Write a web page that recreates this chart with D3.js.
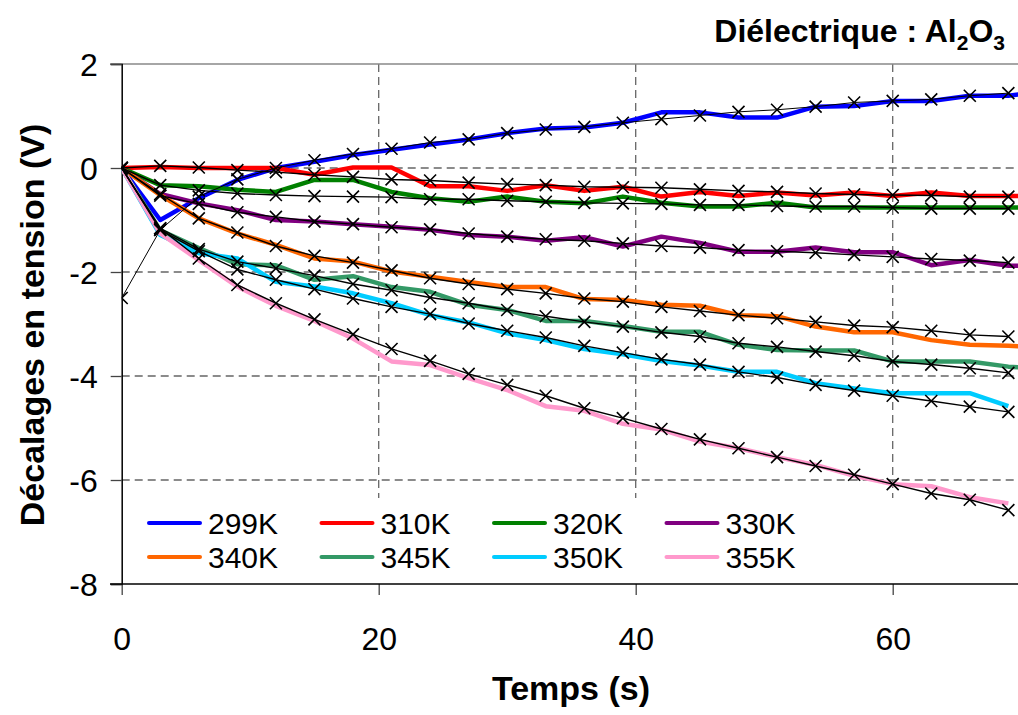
<!DOCTYPE html>
<html><head><meta charset="utf-8">
<script src="https://cdn.jsdelivr.net/npm/d3@7"></script>
<style>
body{margin:0;background:#fff;}
svg{display:block;font-family:"Liberation Sans",Arial,sans-serif;}
</style></head>
<body><svg id="c" width="1018" height="715"></svg>
<script>
// ---- data ----
const times    = [0,3,6,9,12,15,18,21,24,27,30,33,36,39,42,45,48,51,54,57,60,63,66,69,72];
const timesFit = [0,3,6,9,12,15,18,21,24,27,30,33,36,39,42,45,48,51,54,57,60,63,66,69];
const labels = ["299K","310K","320K","330K","340K","345K","350K","355K"];
const colors = ["#0000FF","#FF0000","#008000","#800080","#FF6600","#339966","#00CCFF","#FF99CC"];
const xTicks = [0,20,40,60];
const yTicks = [2,0,-2,-4,-6,-8];

const m299 = [0,-1.0,-0.58,-0.23,0.0,0.12,0.25,0.35,0.45,0.55,0.67,0.76,0.78,0.87,1.07,1.07,0.97,0.97,1.18,1.19,1.29,1.29,1.39,1.39,1.48];
const m310 = [0,0.02,0.0,0.0,0.0,-0.13,0.01,0.01,-0.35,-0.35,-0.44,-0.33,-0.44,-0.36,-0.55,-0.46,-0.54,-0.47,-0.53,-0.47,-0.54,-0.47,-0.54,-0.54,-0.53];
const m320 = [0,-0.33,-0.35,-0.42,-0.46,-0.23,-0.23,-0.46,-0.58,-0.65,-0.55,-0.65,-0.68,-0.55,-0.67,-0.74,-0.74,-0.67,-0.76,-0.76,-0.76,-0.76,-0.76,-0.76,-0.76];
const m330 = [0,-0.5,-0.68,-0.81,-1.0,-1.03,-1.08,-1.13,-1.19,-1.29,-1.32,-1.40,-1.33,-1.51,-1.32,-1.44,-1.61,-1.61,-1.53,-1.62,-1.62,-1.87,-1.77,-1.88,-1.88];
const m340 = [0,-0.52,-0.97,-1.26,-1.48,-1.74,-1.8,-1.99,-2.09,-2.19,-2.29,-2.29,-2.52,-2.54,-2.63,-2.65,-2.83,-2.85,-3.05,-3.16,-3.16,-3.31,-3.40,-3.42,-3.45];
const m345 = [0,-1.2,-1.54,-1.85,-1.87,-2.15,-2.08,-2.29,-2.38,-2.63,-2.73,-2.94,-2.94,-3.04,-3.15,-3.15,-3.40,-3.5,-3.51,-3.51,-3.72,-3.72,-3.72,-3.82,-3.86];
const m350 = [0,-1.29,-1.64,-1.74,-2.19,-2.28,-2.41,-2.6,-2.83,-2.97,-3.18,-3.31,-3.48,-3.58,-3.71,-3.8,-3.92,-3.92,-4.14,-4.24,-4.33,-4.33,-4.33,-4.58];
const m355 = [0,-1.26,-1.77,-2.28,-2.65,-2.94,-3.28,-3.72,-3.79,-4.04,-4.27,-4.58,-4.67,-4.92,-5.03,-5.26,-5.39,-5.56,-5.71,-5.92,-6.08,-6.12,-6.33,-6.45];

const f299 = [-2.5,-1.19,-0.55,-0.22,0.0,0.15,0.27,0.37,0.49,0.55,0.67,0.74,0.79,0.87,0.94,1.01,1.08,1.12,1.18,1.26,1.29,1.32,1.39,1.44];
const f310 = [0,0.04,0.01,-0.04,-0.08,-0.13,-0.17,-0.22,-0.24,-0.28,-0.31,-0.33,-0.36,-0.37,-0.38,-0.41,-0.44,-0.46,-0.49,-0.51,-0.52,-0.53,-0.55,-0.55];
const f320 = [0,-0.33,-0.43,-0.49,-0.52,-0.54,-0.55,-0.56,-0.6,-0.6,-0.63,-0.65,-0.67,-0.68,-0.69,-0.71,-0.71,-0.73,-0.74,-0.74,-0.76,-0.78,-0.78,-0.78];
const f330 = [0,-0.53,-0.69,-0.85,-0.94,-1.03,-1.08,-1.14,-1.18,-1.26,-1.32,-1.37,-1.40,-1.45,-1.50,-1.53,-1.58,-1.60,-1.63,-1.67,-1.71,-1.75,-1.78,-1.82];
const f340 = [0,-0.5,-0.97,-1.24,-1.5,-1.69,-1.82,-1.97,-2.12,-2.23,-2.33,-2.41,-2.51,-2.57,-2.67,-2.75,-2.83,-2.89,-2.96,-3.03,-3.06,-3.13,-3.21,-3.24];
const f345 = [0,-1.16,-1.56,-1.8,-1.93,-2.07,-2.23,-2.35,-2.49,-2.6,-2.73,-2.85,-2.96,-3.05,-3.16,-3.24,-3.37,-3.44,-3.53,-3.61,-3.72,-3.78,-3.85,-3.94];
const f350 = [0,-1.19,-1.6,-1.95,-2.15,-2.33,-2.51,-2.67,-2.81,-2.99,-3.13,-3.26,-3.42,-3.55,-3.68,-3.78,-3.92,-4.03,-4.17,-4.28,-4.38,-4.48,-4.59,-4.69];
const f355 = [0,-1.16,-1.74,-2.25,-2.6,-2.91,-3.2,-3.48,-3.71,-3.96,-4.17,-4.38,-4.62,-4.81,-5.02,-5.22,-5.39,-5.56,-5.73,-5.90,-6.08,-6.26,-6.38,-6.58];

const measured = [m299,m310,m320,m330,m340,m345,m350,m355];
const fits = [f299,f310,f320,f330,f340,f345,f350,f355];

// ---- layout ----
const svg = d3.select("#c");
const x = d3.scaleLinear().domain([0,70]).range([121.7,1021.2]);
const y = d3.scaleLinear().domain([-8,2]).range([584,64]);
const x0 = x(0), x1 = 1018;

svg.append("defs").append("clipPath").attr("id","clip")
  .append("rect").attr("x",x0).attr("y",y(2)-2).attr("width",x1-x0).attr("height",y(-8)-y(2)+4);

// gridlines
const grid = svg.append("g");
grid.selectAll(".hg").data(yTicks.filter(v=>v>-8 && v<2)).join("line")
  .attr("x1",x0).attr("x2",x1).attr("y1",d=>y(d)).attr("y2",d=>y(d))
  .attr("stroke","#666").attr("stroke-width",1.3).attr("stroke-dasharray","8,5");
grid.selectAll(".vg").data(xTicks.filter(v=>v>0)).join("line")
  .attr("x1",d=>x(d)).attr("x2",d=>x(d)).attr("y1",y(2)).attr("y2",y(-8))
  .attr("stroke","#666").attr("stroke-width",1.3).attr("stroke-dasharray","8,5");
svg.append("line").attr("x1",110).attr("x2",x1).attr("y1",y(2)).attr("y2",y(2))
  .attr("stroke","#888").attr("stroke-width",1.5);

// legend background
svg.append("rect").attr("x",127).attr("y",498).attr("width",880).attr("height",y(-8)-498-1).attr("fill","#fff");

// axes
const yAxis = d3.axisLeft(y).tickValues(yTicks).tickSize(11).tickFormat(d3.format("d"));
const gy = svg.append("g").attr("transform",`translate(${x0},0)`).call(yAxis);
gy.select(".domain").attr("stroke","#000").attr("stroke-width",1.5);
gy.selectAll(".tick line").attr("stroke","#444").attr("stroke-width",1.3);
gy.selectAll(".tick text").attr("font-size",32).attr("fill","#000").attr("x",-24).attr("dy","0.36em")
  .text(d=>d<0?"-"+Math.abs(d):d);

const xAxis = d3.axisBottom(x).tickValues(xTicks).tickSize(11).tickFormat(d3.format("d"));
const gx = svg.append("g").attr("transform",`translate(0,${y(-8)})`).call(xAxis);
gx.select(".domain").remove();
gx.append("line").attr("x1",110).attr("x2",x1).attr("y1",0).attr("y2",0).attr("stroke","#000").attr("stroke-width",1.5);
gx.selectAll(".tick line").attr("stroke","#444").attr("stroke-width",1.3);
gx.selectAll(".tick text").attr("font-size",32).attr("fill","#000").attr("y",66).attr("dy",0);

// series
const plot = svg.append("g").attr("clip-path","url(#clip)");
const lineM = d3.line().x((d,i)=>x(times[i])).y(d=>y(d));
const lineF = d3.line().x((d,i)=>x(timesFit[i])).y(d=>y(d));
measured.forEach((s,k)=>{
  plot.append("path").attr("d",lineM(s)).attr("fill","none").attr("stroke",colors[k])
    .attr("stroke-width",4.5).attr("stroke-linejoin","round");
});
fits.forEach((s,k)=>{
  plot.append("path").attr("d",lineF(s)).attr("fill","none").attr("stroke","#000")
    .attr("stroke-width",k===0?1:1.4);
});
fits.forEach((s,k)=>{
  plot.selectAll(null).data(s).join("path")
    .attr("transform",(d,i)=>`translate(${x(timesFit[i])},${y(d)})`)
    .attr("d","M-6,-6L6,6M6,-6L-6,6").attr("stroke","#000").attr("stroke-width",1.6).attr("fill","none");
});

// legend
const lg = svg.append("g");
labels.forEach((lab,k)=>{
  const col = k%4, row = Math.floor(k/4);
  const lx = 149 + col*172.5, ly = 523 + row*34;
  lg.append("line").attr("x1",lx).attr("x2",lx+51).attr("y1",ly).attr("y2",ly)
    .attr("stroke",colors[k]).attr("stroke-width",4).attr("stroke-linecap","round");
  lg.append("text").attr("x",lx+59).attr("y",ly+11).attr("font-size",30).text(lab);
});

// titles
svg.append("text").attr("x",571).attr("y",700).attr("text-anchor","middle")
  .attr("font-size",34).attr("font-weight","bold").text("Temps (s)");
svg.append("text").attr("transform","translate(44,325) rotate(-90)").attr("text-anchor","middle")
  .attr("font-size",34).attr("font-weight","bold").text("Décalages en tension (V)");
const t = svg.append("text").attr("x",1005).attr("y",42).attr("text-anchor","end")
  .attr("font-size",32).attr("font-weight","bold");
t.append("tspan").text("Diélectrique : Al");
t.append("tspan").attr("font-size",21).attr("dy",8).text("2");
t.append("tspan").attr("dy",-8).text("O");
t.append("tspan").attr("font-size",21).attr("dy",8).text("3");
</script></body></html>
